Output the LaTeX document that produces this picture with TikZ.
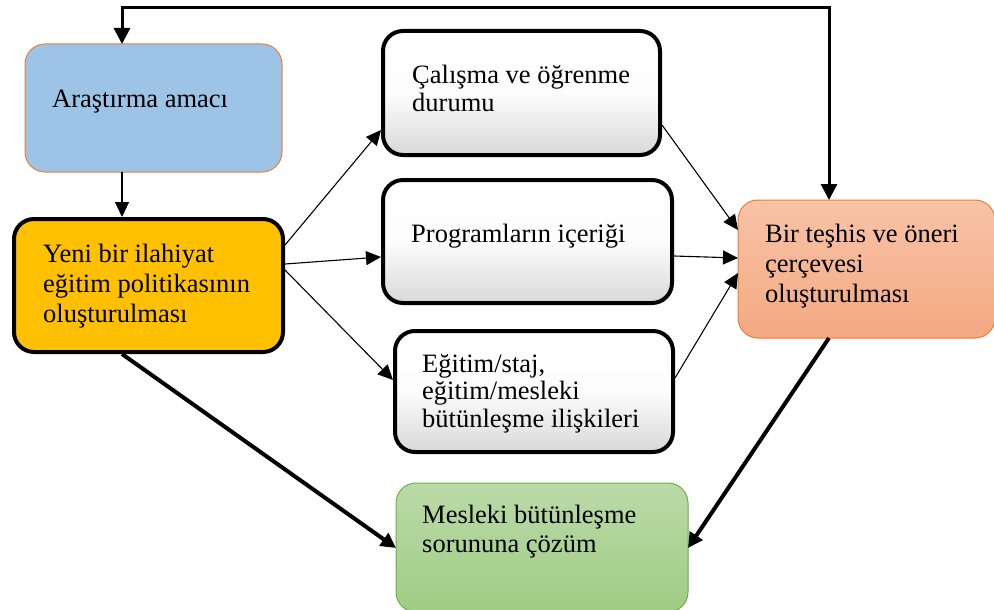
\documentclass[tikz,border=0pt]{standalone}
\usepackage{fontspec}
\setmainfont{Liberation Serif}
\usetikzlibrary{arrows.meta,calc}
\definecolor{boxblue}{HTML}{9DC3E6}
\definecolor{edgeorange}{HTML}{ED7D31}
\definecolor{boxgold}{HTML}{FFC000}
\definecolor{salmontop}{HTML}{F8C3A7}
\definecolor{salmonbot}{HTML}{F4A982}
\definecolor{greentop}{HTML}{BADAA8}
\definecolor{greenbot}{HTML}{A0CC84}
\definecolor{edgegreen}{HTML}{70AD47}
\definecolor{greybot}{HTML}{D8D8D8}
\begin{document}
\begin{tikzpicture}[x=1pt,y=-1pt,
  box/.style={rectangle, rounded corners=20pt, inner sep=0pt, outer sep=0pt},
  heavybox/.style={box, draw=black, line width=4pt},
  whitebox/.style={heavybox, top color=white, bottom color=greybot, middle color=white!94!greybot},
  label text/.style={anchor=base west, inner sep=0pt, align=left,
    font=\fontsize{26.5}{29}\selectfont},
  thin arrow/.style={line width=1.1pt, -{Triangle[length=15pt,width=14pt]}},
  bold arrow/.style={line width=4pt, -{Triangle[length=15pt,width=15pt]}},
  loop arrow/.style={line width=3pt, {Triangle[length=16pt,width=16pt]}-{Triangle[length=16pt,width=16pt]}}
]
\useasboundingbox (0,0) rectangle (994,610);

% boxes
\node[box, fill=boxblue, draw=edgeorange, line width=1pt,
  minimum width=257pt, minimum height=128pt] (amac) at (153.5,108) {};
\node[heavybox, fill=boxgold,
  minimum width=269pt, minimum height=133pt] (pol) at (148.5,285.5) {};
\node[whitebox, minimum width=277pt, minimum height=124pt] (calis) at (521.5,93) {};
\node[whitebox, minimum width=289pt, minimum height=123pt] (prog) at (527.5,241.5) {};
\node[whitebox, minimum width=278pt, minimum height=121pt] (ilis) at (534,391.5) {};
\node[box, top color=salmontop, bottom color=salmonbot, draw=edgeorange, line width=1pt,
  minimum width=257pt, minimum height=138pt] (tesh) at (866.5,269) {};
\node[box, top color=greentop, bottom color=greenbot, draw=edgegreen, line width=1pt,
  minimum width=292pt, minimum height=129pt] (cozum) at (542,547.5) {};

% texts (anchored on the baseline of their last line)
\node[label text] (amacT) at (52,107) {Araştırma amacı};
\node[label text, font=\fontsize{26.5}{30}\selectfont] (polT) at (43,322)
  {Yeni bir ilahiyat\\eğitim politikasının\\oluşturulması};
\node[label text, font=\fontsize{26.5}{28}\selectfont] (calisT) at (412,111)
  {Çalışma ve öğrenme\\durumu};
\node[label text] (progT) at (411,242) {Programların içeriği};
\node[label text, font=\fontsize{26.5}{27.5}\selectfont] (ilisT) at (422,427)
  {Eğitim/staj,\\eğitim/mesleki\\bütünleşme ilişkileri};
\node[label text, font=\fontsize{26.5}{30}\selectfont] (teshT) at (765,302)
  {Bir teşhis ve öneri\\çerçevesi\\oluşturulması};
\node[label text] (cozumT) at (422,552)
  {Mesleki bütünleşme\\sorununa çözüm};

% feedback loop along the top
\coordinate (loopL) at ($(amac.north west)+(97,0)$);
\coordinate (loopR) at ($(tesh.north west)+(91,0)$);
\coordinate (topline) at (0,8);
\draw[loop arrow] (loopL) |- (topline -| loopR) -- (loopR);

% connectors
\draw[thin arrow] ($(amac.south west)+(97,0)$) -- ($(pol.north west)+(108,-2)$);
\draw[thin arrow] ($(pol.north east)+(2,26)$) -- ($(calis.south west)+(-2,-25)$);
\draw[thin arrow] ($(pol.north east)+(2,45)$) -- ($(prog.north west)+(-2,77)$);
\draw[thin arrow] ($(pol.north east)+(2,51)$) -- ($(ilis.north west)+(-2,49)$);
\draw[thin arrow] ($(calis.south east)+(2,-30)$) -- ($(tesh.north west)+(0,30)$);
\draw[thin arrow] ($(prog.north east)+(2,76)$) -- ($(tesh.north west)+(0,58)$);
\draw[thin arrow] ($(ilis.north east)+(2,47)$) -- ($(tesh.north west)+(0,73)$);
\draw[bold arrow] ($(tesh.south west)+(91,0)$) -- ($(cozum.north east)+(0,65)$);
\draw[bold arrow] ($(pol.south west)+(108,2)$) -- ($(cozum.north west)+(0,65)$);
\end{tikzpicture}
\end{document}
